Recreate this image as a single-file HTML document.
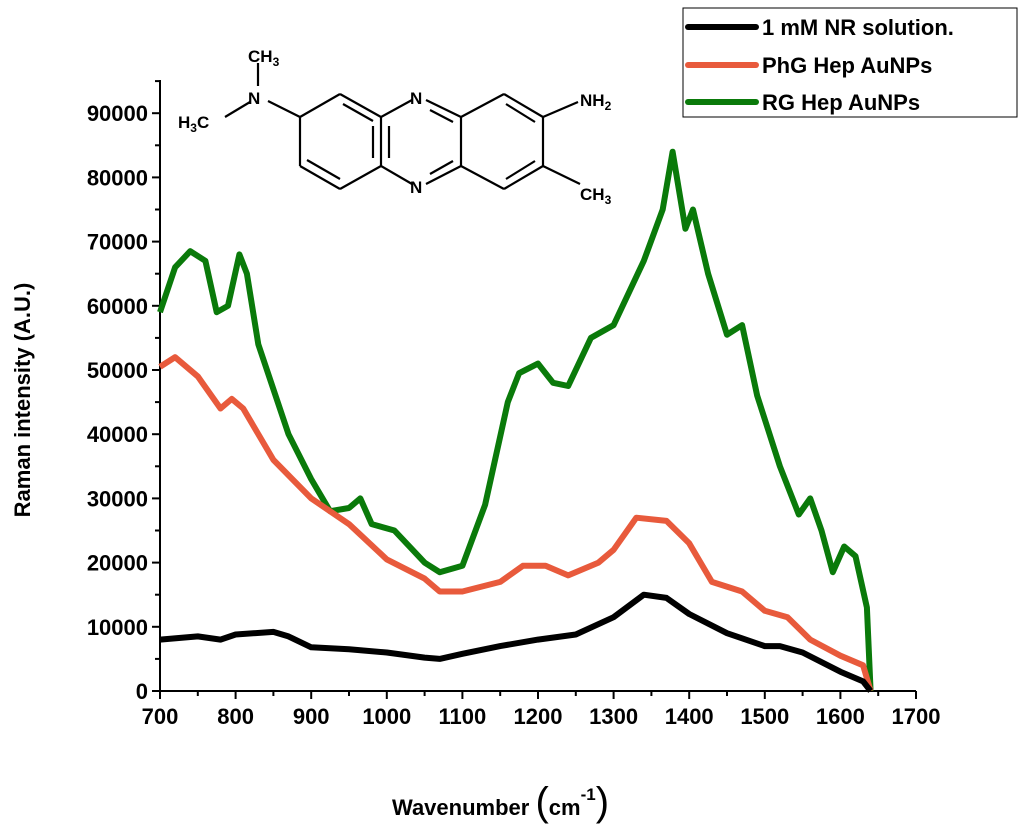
<!DOCTYPE html>
<html><head><meta charset="utf-8"><style>
body{margin:0;background:#fff;}
svg{display:block;font-family:"Liberation Sans",sans-serif;}
.t{font-weight:bold;font-size:22px;fill:#000;}
.mol line{stroke:#000;stroke-width:2.2;}
.mol text{font-size:17px;font-weight:bold;}
</style></head><body>
<svg id="c" width="1024" height="831">
<g class="mol">
<line x1="340" y1="94" x2="381" y2="117"/><line x1="381" y1="117" x2="381" y2="166"/><line x1="381" y1="166" x2="340" y2="189"/><line x1="340" y1="189" x2="300" y2="166"/><line x1="300" y1="166" x2="300" y2="117"/><line x1="300" y1="117" x2="340" y2="94"/>
<line x1="307" y1="160" x2="340" y2="179"/><line x1="343" y1="104" x2="373" y2="121"/><line x1="373" y1="126" x2="373" y2="158"/>
<line x1="381" y1="117" x2="412" y2="100"/><line x1="426" y1="100" x2="461" y2="117"/><line x1="461" y1="117" x2="461" y2="166"/><line x1="461" y1="166" x2="426" y2="184"/><line x1="412" y1="184" x2="381" y2="166"/>
<line x1="389" y1="126" x2="389" y2="158"/><line x1="430" y1="110" x2="453" y2="122"/><line x1="430" y1="174" x2="453" y2="161"/>
<line x1="461" y1="117" x2="504" y2="94"/><line x1="504" y1="94" x2="543" y2="117"/><line x1="543" y1="117" x2="543" y2="166"/><line x1="543" y1="166" x2="504" y2="189"/><line x1="504" y1="189" x2="461" y2="166"/>
<line x1="506" y1="104" x2="535" y2="122"/><line x1="506" y1="179" x2="535" y2="161"/>
<line x1="543" y1="117" x2="578" y2="102"/><line x1="543" y1="166" x2="580" y2="184"/>
<line x1="300" y1="117" x2="268" y2="101"/><line x1="258" y1="63" x2="258" y2="86"/><line x1="225" y1="117" x2="250" y2="102"/>
<text x="410" y="104">N</text><text x="410" y="193">N</text>
<text x="248" y="104">N</text><text x="248" y="62">CH<tspan font-size="12" dy="4">3</tspan></text>
<text x="178" y="128">H<tspan font-size="12" dy="4">3</tspan><tspan dy="-4">C</tspan></text>
<text x="580" y="106">NH<tspan font-size="12" dy="4">2</tspan></text>
<text x="580" y="200">CH<tspan font-size="12" dy="4">3</tspan></text>
</g>
<g id="axes"></g>
<g id="series"></g>
<text class="t" transform="translate(30,400) rotate(-90)" text-anchor="middle" font-size="23">Raman intensity (A.U.)</text>
<text class="t" x="392" y="815" font-size="26">Wavenumber <tspan font-size="40" font-weight="normal">(</tspan>cm<tspan font-size="17" dy="-15">-1</tspan><tspan font-size="40" font-weight="normal" dy="15">)</tspan></text>
<g>
<rect x="683" y="8" width="334" height="109" fill="#fff" stroke="#000" stroke-width="1"/>
<line x1="688" y1="27" x2="756" y2="27" stroke="#000" stroke-width="6" stroke-linecap="round"/>
<line x1="688" y1="65" x2="756" y2="65" stroke="#e85a3c" stroke-width="6" stroke-linecap="round"/>
<line x1="688" y1="102" x2="756" y2="102" stroke="#0a7a0a" stroke-width="6" stroke-linecap="round"/>
<text class="t" x="762" y="35" font-size="22">1 mM NR solution.</text>
<text class="t" x="762" y="73" font-size="22">PhG Hep AuNPs</text>
<text class="t" x="762" y="110" font-size="22">RG Hep AuNPs</text>
</g>
</svg>
<script>
const xTicks=[700,800,900,1000,1100,1200,1300,1400,1500,1600,1700];
const yTicks=[0,10000,20000,30000,40000,50000,60000,70000,80000,90000];
const blackX=[700,750,780,800,850,870,900,950,1000,1050,1070,1100,1150,1200,1250,1300,1340,1370,1400,1450,1500,1520,1550,1600,1630,1640];
const blackY=[8,8.5,8,8.8,9.2,8.5,6.8,6.5,6,5.2,5,5.8,7,8,8.8,11.5,15,14.5,12,9,7,7,6,3,1.5,0];
const orangeX=[700,720,750,780,795,810,850,900,950,1000,1050,1070,1100,1150,1180,1210,1240,1280,1300,1330,1370,1400,1430,1470,1500,1530,1560,1600,1630,1640];
const orangeY=[50.5,52,49,44,45.5,44,36,30,26,20.5,17.5,15.5,15.5,17,19.5,19.5,18,20,22,27,26.5,23,17,15.5,12.5,11.5,8,5.5,4,0];
const greenX=[700,720,740,760,775,790,805,815,830,870,900,925,950,965,980,1010,1050,1070,1100,1130,1160,1175,1200,1220,1240,1270,1300,1340,1365,1378,1395,1405,1425,1450,1470,1490,1520,1545,1560,1575,1590,1605,1620,1635,1640];
const greenY=[59,66,68.5,67,59,60,68,65,54,40,33,28,28.5,30,26,25,20,18.5,19.5,29,45,49.5,51,48,47.5,55,57,67,75,84,72,75,65,55.5,57,46,35,27.5,30,25,18.5,22.5,21,13,0];
const NS="http://www.w3.org/2000/svg";
const X0=160,Y0=691,KX=0.756,KY=64.2/10000;
const sx=v=>X0+(v-700)*KX, sy=v=>Y0-v*KY;
function mk(t,a,p){const e=document.createElementNS(NS,t);for(const k in a)e.setAttribute(k,a[k]);p.appendChild(e);return e;}
const ax=document.getElementById('axes');
const yl=mk('line',{x1:X0,y1:80,x2:X0,y2:Y0,stroke:'#000','stroke-width':2},ax);


const xl=mk('line',{x1:X0,y1:Y0,x2:sx(1700),y2:Y0,stroke:'#000','stroke-width':2},ax);


for(let v=700;v<=1700;v+=50){const M=v%100===0;mk('line',{x1:sx(v),y1:Y0,x2:sx(v),y2:Y0+(M?8:5),stroke:'#000','stroke-width':2},ax);}
xTicks.forEach(v=>{const t=mk('text',{x:sx(v),y:Y0+33,'text-anchor':'middle',class:'t'},ax);t.textContent=v;

});
for(let v=0;v<=95000;v+=5000){const M=v%10000===0;mk('line',{x1:X0,y1:sy(v),x2:X0-(M?8:5),y2:sy(v),stroke:'#000','stroke-width':2},ax);}
yTicks.forEach(v=>{const t=mk('text',{x:X0-12,y:sy(v)+8,'text-anchor':'end',class:'t'},ax);t.textContent=v;

});
const sg=document.getElementById('series');
function line(xs,ys,col,name){const d=xs.map((x,i)=>(i?'L':'M')+sx(x).toFixed(1)+','+sy(ys[i]*1000).toFixed(1)).join('');
const p=mk('path',{d:d,fill:'none',stroke:col,'stroke-width':6,'stroke-linejoin':'round'},sg);

}
line(greenX,greenY,'#0a7a0a','series-rg-hep-aunps');
line(orangeX,orangeY,'#e85a3c','series-phg-hep-aunps');
line(blackX,blackY,'#000','series-nr-solution');
</script>
</body></html>
